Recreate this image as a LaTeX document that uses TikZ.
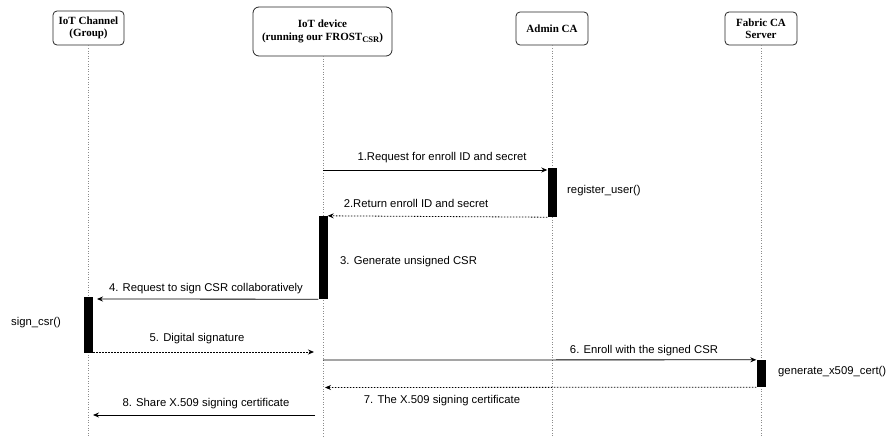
\documentclass[tikz,border=0pt]{standalone}
\usepackage{fontspec}
\setmainfont{Liberation Serif}
\newfontfamily\arialf{Liberation Sans}
\usetikzlibrary{arrows.meta}
\begin{document}
\begin{tikzpicture}[x=1pt,y=-1pt,
  header/.style={draw=black!85,line width=0.8pt,rounded corners=4pt,align=center,
    font=\fontsize{11}{12.5}\selectfont\bfseries,inner sep=0pt},
  life/.style={draw=black!45,line width=0.8pt,dash pattern=on 1pt off 1.6pt},
  act/.style={fill=black,draw=none,minimum width=9pt,inner sep=0pt},
  msg/.style={line width=0.8pt,-{Stealth[length=6pt,width=5pt,inset=2pt]}},
  ret/.style={msg,dash pattern=on 1.5pt off 1.5pt},
  lbl/.style={font=\arialf\fontsize{11.3}{12}\selectfont,inner sep=0pt}]
\useasboundingbox (0,0) rectangle (886,437);
% headers
\node[header,minimum width=71pt,minimum height=34pt] (chan) at (88.5,28) {IoT Channel\\(Group)};
\node[header,minimum width=139pt,minimum height=49pt,rounded corners=6pt] (dev) at (322.5,31.5) {IoT device\\(running our FROST\raisebox{-2.5pt}{\fontsize{8.5}{9}\selectfont CSR})};
\node[header,minimum width=72pt,minimum height=33pt] (adm) at (552,28.5) {Admin CA};
\node[header,minimum width=72pt,minimum height=33pt] (fab) at (761,28.5) {Fabric CA\\Server};
% lifeline ends
\coordinate (chanE) at (88.5,437);
\coordinate (devE) at (323,437);
\coordinate (admE) at (552,437);
\coordinate (fabE) at (761,437);
\draw[life] (chan.south) -- (chanE);
\draw[life] (323,56) -- (devE);
\draw[life] (adm.south) -- (admE);
\draw[life] (fab.south) -- (fabE);
% activations
\node[act,minimum height=49pt] (aact) at (552,192.5) {};
\node[act,minimum height=83pt] (dact) at (323,257.5) {};
\node[act,minimum height=56pt] (cact) at (88.5,325) {};
\node[act,minimum height=27pt] (fact) at (761,373.5) {};
% message endpoints
\coordinate (m1s) at (323,170);
\coordinate (m4e) at (97,299);
\coordinate (m5e) at (314,352);
\coordinate (m6s) at (323,360);
\coordinate (m7e) at (325,387.5);
\coordinate (m8s) at (315,415);
\coordinate (m8e) at (93,415);
% messages
\draw[msg] (m1s) -- (aact.west |- m1s);
\draw[ret] (aact.south west) -- (dact.north east);
\draw[msg] (dact.south west) -- (m4e);
\draw[ret] (cact.east |- m5e) -- (m5e);
\draw[msg] (m6s) -- (fact.north west);
\draw[ret] (fact.south west) -- (m7e);
\draw[msg] (m8s) -- (m8e);
% labels
\node[lbl] (l1) at (442,158) {1.Request for enroll ID and secret};
\node[lbl] (l2) at (416,203) {2.Return enroll ID and secret};
\node[lbl,anchor=west] (l3) at (340,262) {3. Generate unsigned CSR};
\node[lbl,anchor=west] (lr) at (567,191) {register\_user()};
\node[lbl] (l4) at (206,289) {4. Request to sign CSR collaboratively};
\node[lbl,anchor=west] (ls) at (11,323) {sign\_csr()};
\node[lbl] (l5) at (197,339) {5. Digital signature};
\node[lbl] (l6) at (644,351) {6. Enroll with the signed CSR};
\node[lbl,anchor=west] (lg) at (778,372) {generate\_x509\_cert()};
\node[lbl] (l7) at (442,401) {7. The X.509 signing certificate};
\node[lbl] (l8) at (206,404) {8. Share X.509 signing certificate};
\end{tikzpicture}
\end{document}
